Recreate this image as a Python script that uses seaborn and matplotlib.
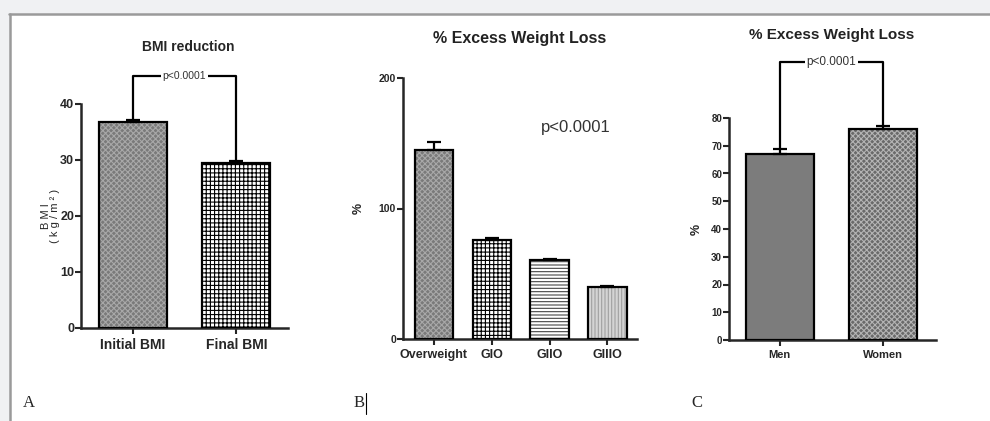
import numpy as np
import pandas as pd
import seaborn as sns
import matplotlib.pyplot as plt
from matplotlib.patches import Rectangle
from matplotlib.lines import Line2D

# panel A - BMI
bmi_groups = ['Initial BMI', 'Final BMI']
bmi_means = [36.7, 29.5]
bmi_err = [0.4, 0.3]

# panel B - %EWL by obesity grade
grade_groups = ['Overweight', 'GIO', 'GIIO', 'GIIIO']
grade_means = [144.8, 76.0, 60.5, 39.6]
grade_err = [6.5, 1.5, 1.0, 0.8]

# panel C - %EWL by sex
sex_groups = ['Men', 'Women']
sex_means = [67.0, 76.1]
sex_err = [1.7, 0.9]

sns.set_theme(style='ticks')
plt.rcParams['font.family'] = ['Liberation Sans', 'DejaVu Sans']
plt.rcParams['hatch.linewidth'] = 0.8
narrow = ['Liberation Sans Narrow', 'Liberation Sans', 'DejaVu Sans']

W, H = 990, 421
fig = plt.figure(figsize=(W / 100, H / 100), dpi=100, facecolor='#f0f1f3')


def fx(px):
    return px / W


def fy(py):
    return 1 - py / H


# white page with grey border
fig.add_artist(Rectangle((fx(10), 0), 1 - fx(10), fy(14), transform=fig.transFigure,
                         facecolor='white', edgecolor='none', zorder=-5))
fig.add_artist(Line2D([fx(9), 1], [fy(14), fy(14)], color='#9a9a9a', lw=1.8, zorder=-4))
fig.add_artist(Line2D([fx(10), fx(10)], [fy(14), 0], color='#9a9a9a', lw=1.8, zorder=-4))


def make_axes(left, right, top, bottom):
    ax = fig.add_axes([fx(left), fy(bottom), fx(right) - fx(left), (bottom - top) / H])
    ax.set_facecolor('none')
    return ax


def draw_bars(ax, groups, means, errs, faces, hatches, hatch_cols):
    df = pd.DataFrame({'group': groups, 'value': means})
    sns.barplot(data=df, x='group', y='value', hue='group', palette=faces, legend=False,
                errorbar=None, width=0.66, linewidth=0, ax=ax)
    for p, h, hc in list(zip(ax.patches, hatches, hatch_cols)):
        # hatch takes the edge colour, so draw the black outline separately
        p.set_hatch(h)
        p.set_edgecolor(hc)
        p.set_linewidth(0)
        ax.add_patch(Rectangle(p.get_xy(), p.get_width(), p.get_height(), fill=False,
                               edgecolor='black', linewidth=1.6, zorder=3))
    x = np.arange(len(groups))
    ax.errorbar(x, means, yerr=[np.zeros(len(errs)), errs], fmt='none', ecolor='black',
                elinewidth=1.6, capsize=5, capthick=1.6, zorder=5)
    ax.set_xlabel('')
    ax.set_ylabel('')
    sns.despine(ax=ax)
    for s in ['left', 'bottom']:
        ax.spines[s].set_linewidth(1.8)
    ax.tick_params(axis='both', direction='out', length=4, width=1.5, pad=1)


def bracket(ax, x0, x1, ytop, y0, y1, label, size):
    ax.plot([x0, x0, x1, x1], [y0, ytop, ytop, y1], color='black', lw=1.6, clip_on=False)
    ax.text((x0 + x1) / 2, ytop, label, ha='center', va='center', fontsize=size,
            family=narrow, color='#333333', clip_on=False,
            bbox=dict(facecolor='white', edgecolor='none', pad=1))


# ---- A ----
axA = make_axes(81, 288, 104, 328)
draw_bars(axA, bmi_groups, bmi_means, bmi_err, ['#7a7a7a', 'white'],
          ['xxxxxx', '++++'], ['#a8a8a8', 'black'])
axA.set_xlim(-0.5, 1.5)
axA.set_ylim(0, 40)
axA.set_yticks([0, 10, 20, 30, 40])
axA.tick_params(axis='y', labelsize=9)
axA.tick_params(axis='x', labelsize=10, pad=3)
for t in axA.get_xticklabels() + axA.get_yticklabels():
    t.set_fontweight('bold')
axA.set_ylabel('B M I\n( k g / m ² )', fontsize=8, labelpad=0, linespacing=0.9)
bracket(axA, 0, 1, 45, 37.3, 29.9, 'p<0.0001', 7.5)
fig.text(fx(188), fy(47), 'BMI reduction', ha='center', va='center', fontsize=10,
         family=narrow, fontweight='bold')

# ---- B ----
axB = make_axes(403, 637, 78, 339)
draw_bars(axB, grade_groups, grade_means, grade_err,
          ['#7a7a7a', 'white', 'white', '#d4d4d4'],
          ['xxxxxx', '++++', '-----', '|||||'],
          ['#a8a8a8', 'black', '#444444', '#a0a0a0'])
axB.set_xlim(-0.53, 3.51)
axB.set_ylim(0, 200)
axB.set_yticks([0, 100, 200])
axB.tick_params(axis='y', labelsize=7.5)
axB.tick_params(axis='x', labelsize=9, pad=3)
for t in axB.get_xticklabels() + axB.get_yticklabels():
    t.set_fontweight('bold')
    t.set_family(narrow)
axB.set_ylabel('%', fontsize=9, fontweight='bold', labelpad=10)
axB.text(2.45, 162, 'p<0.0001', fontsize=12, family=narrow, ha='center', va='center',
         color='#333333')
fig.text(fx(520), fy(38), '% Excess Weight Loss', ha='center', va='center', fontsize=11.5,
         family=narrow, fontweight='bold', color='#222222')

# ---- C ----
axC = make_axes(729, 936, 118, 340)
draw_bars(axC, sex_groups, sex_means, sex_err, ['#7c7c7c', '#6a6a6a'],
          ['', 'xxxxxx'], ['#7c7c7c', '#b4b4b4'])
axC.set_xlim(-0.49, 1.51)
axC.set_ylim(0, 80)
axC.set_yticks(np.arange(0, 81, 10))
axC.tick_params(axis='y', labelsize=7)
axC.tick_params(axis='x', labelsize=8, pad=3)
for t in axC.get_xticklabels() + axC.get_yticklabels():
    t.set_fontweight('bold')
    t.set_family(narrow)
axC.set_ylabel('%', fontsize=9, fontweight='bold', labelpad=6)
bracket(axC, 0, 1, 100, 68.9, 77.2, 'p<0.0001', 8.5)
fig.text(fx(832), fy(35), '% Excess Weight Loss', ha='center', va='center', fontsize=11,
         family=narrow, fontweight='bold', color='#222222')

# panel letters
serif = ['Liberation Serif', 'DejaVu Serif']
fig.text(fx(29), fy(403), 'A', ha='center', va='center', fontsize=12, family=serif)
fig.text(fx(359), fy(403), 'B', ha='center', va='center', fontsize=12, family=serif)
fig.add_artist(Line2D([fx(366), fx(366)], [fy(393), fy(414)], color='black', lw=0.8))
fig.text(fx(697), fy(403), 'C', ha='center', va='center', fontsize=12, family=serif)

fig.savefig('out.png', dpi=100, facecolor=fig.get_facecolor())
